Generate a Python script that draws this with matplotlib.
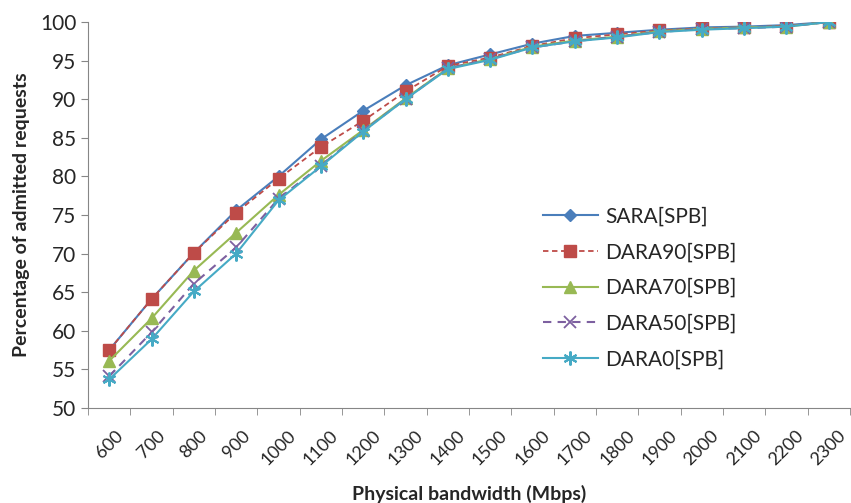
import numpy as np
import matplotlib.pyplot as plt

plt.rcParams['font.family'] = ['Lato', 'DejaVu Sans']

bandwidth = ["600", "700", "800", "900", "1000", "1100", "1200", "1300", "1400",
             "1500", "1600", "1700", "1800", "1900", "2000", "2100", "2200", "2300"]

sara   = [57.5, 64.1, 70.1, 75.6, 80.0, 84.8, 88.5, 91.8, 94.4, 95.8, 97.2, 98.2, 98.6, 99.0, 99.3, 99.4, 99.6, 100.0]
dara90 = [57.5, 64.1, 70.1, 75.3, 79.7, 83.8, 87.2, 91.0, 94.3, 95.4, 96.9, 97.9, 98.4, 98.9, 99.2, 99.3, 99.5, 100.0]
dara70 = [56.1, 61.6, 67.8, 72.7, 77.6, 82.0, 86.0, 90.1, 94.0, 95.2, 96.8, 97.6, 98.1, 98.8, 99.1, 99.3, 99.4, 100.0]
dara50 = [54.1, 59.8, 66.1, 70.8, 77.1, 81.4, 85.9, 90.0, 94.0, 95.2, 96.7, 97.5, 98.1, 98.7, 99.1, 99.2, 99.4, 100.0]
dara0  = [53.7, 58.9, 65.1, 70.0, 76.9, 81.3, 85.8, 90.0, 93.9, 95.1, 96.7, 97.5, 98.0, 98.7, 99.0, 99.2, 99.4, 100.0]

x = np.arange(len(bandwidth))

fig = plt.figure(figsize=(8.51, 5.03), dpi=100)
ax = fig.add_axes([88/851, 95/503, 762/851, 386/503])

ax.plot(x, sara, color='#4A7EBB', lw=1.5, marker='D', ms=6, label='SARA[SPB]')
ax.plot(x, dara90, color='#BE4B48', lw=1.3, ls=(0, (3, 2)), marker='s', ms=8, label='DARA90[SPB]')
ax.plot(x, dara70, color='#98B954', lw=1.5, marker='^', ms=8, label='DARA70[SPB]')
ax.plot(x, dara50, color='#7D60A0', lw=1.5, ls=(0, (4, 3)), marker='x', ms=8, mew=1.3, label='DARA50[SPB]')
ax.plot(x, dara0, color='#46AAC5', lw=1.5, marker=(6, 2, 0), ms=10, mew=1.5, label='DARA0[SPB]')

ax.set_xlim(-0.5, len(bandwidth) - 0.5)
ax.set_ylim(50, 100)
ax.set_yticks(np.arange(50, 101, 5))
ax.set_xticks(x)
ax.set_xticklabels(bandwidth, rotation=45, ha='center', va='top', fontsize=13, color='#262626')
ax.set_xticks(np.arange(-0.5, len(bandwidth)), minor=True)
ax.tick_params(axis='x', which='major', length=0, pad=14)
ax.tick_params(axis='x', which='minor', length=5, color='#868686', direction='out')
ax.tick_params(axis='y', length=5, color='#868686', direction='out', labelsize=15, labelcolor='#262626')

for s in ['top', 'right']:
    ax.spines[s].set_visible(False)
for s in ['left', 'bottom']:
    ax.spines[s].set_color('#868686')

ax.set_xlabel('Physical bandwidth (Mbps)', fontsize=14, fontweight='bold', color='#262626', labelpad=12)
ax.set_ylabel('Percentage of admitted requests', fontsize=14, fontweight='bold', color='#262626', labelpad=7)

ax.legend(loc='upper left', bbox_to_anchor=(0.573, 0.57), frameon=False, fontsize=15,
          handlelength=2.6, handletextpad=0.35, labelspacing=0.75, labelcolor='#262626')

fig.savefig('out.png', dpi=100)
